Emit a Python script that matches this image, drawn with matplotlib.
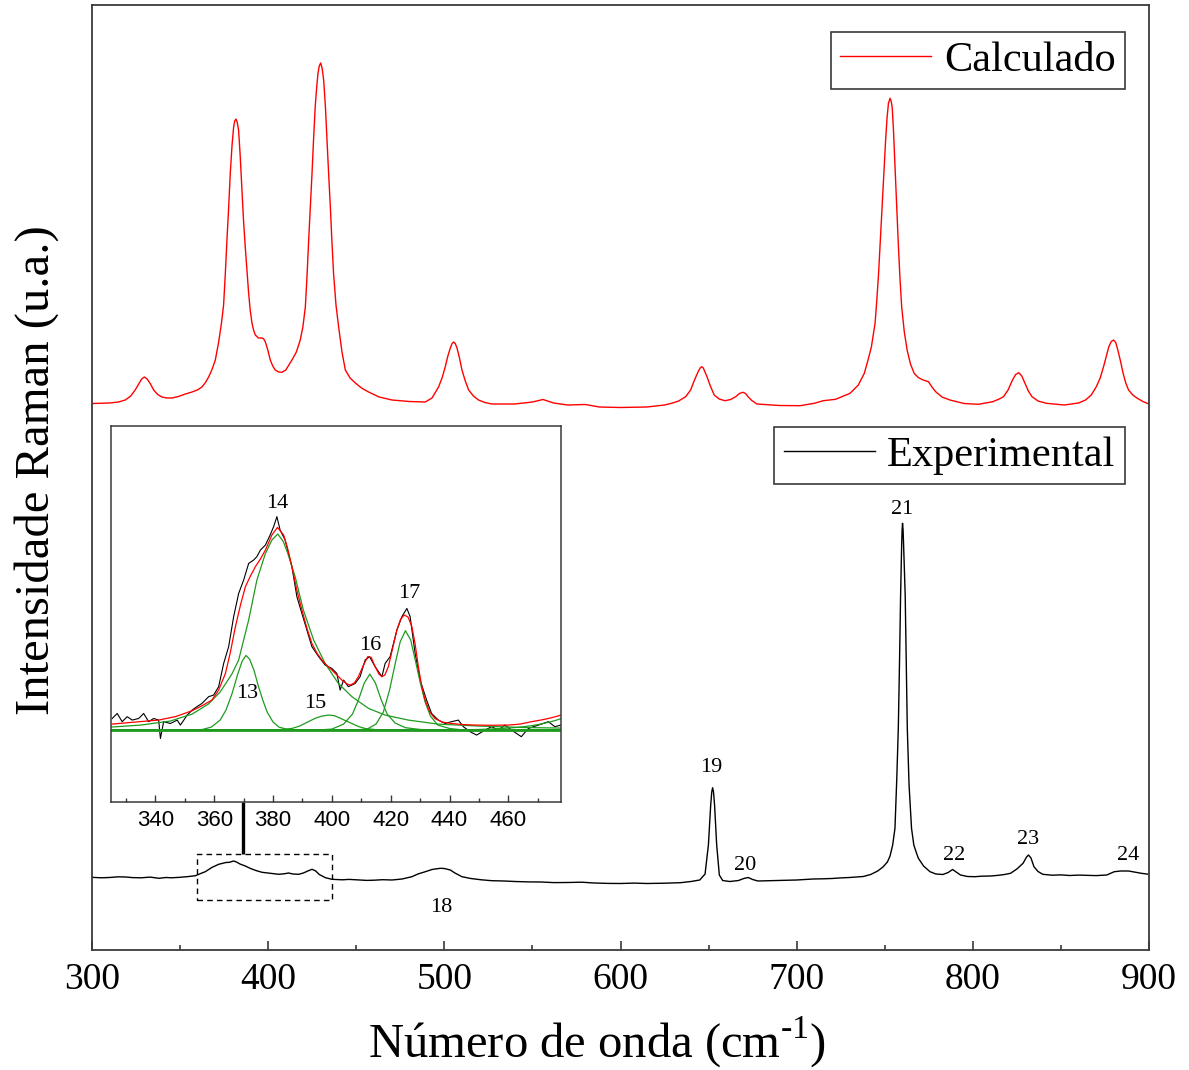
#!/usr/bin/env python3
# Raman spectrum: calculated vs experimental, with inset of the 360-440 region fit

import matplotlib
matplotlib.use("Agg")
import matplotlib.pyplot as plt
from matplotlib.lines import Line2D
from matplotlib.ticker import MultipleLocator

plt.rcParams["font.family"] = ["Liberation Serif", "DejaVu Serif"]
plt.rcParams["mathtext.fontset"] = "custom"
plt.rcParams["mathtext.rm"] = "Liberation Serif"

#%% data (arbitrary units)
calc_x = [300, 310, 315, 318.9, 322, 324.5, 326.5, 328.2, 329.7, 331.3, 333.2, 335, 337.3, 339.7,
          342.5, 345.4, 349, 353, 356.8, 359.8, 362.4, 364.4, 366.2, 368, 370, 371.9, 373.5,
          374.7, 375.7, 376.6, 377.5, 378.5, 379.5, 380.4, 381, 381.7, 382.4, 383.2, 384.1,
          385.1, 386, 387, 388, 388.9, 389.8, 390.8, 391.7, 392.7, 394.5, 396.5, 397.5, 398.4,
          399.8, 401.2, 402.6, 404, 406, 407.8, 410, 413.5, 416, 418.2, 419.7, 421.1, 422, 423,
          424, 424.9, 425.8, 426.7, 427.5, 428.3, 429, 429.8, 430.6, 431.5, 432.5, 433.4, 434.3,
          435.3, 436.2, 437.1, 438.5, 440, 441.9, 443.8, 446.5, 449.5, 453, 457, 463, 470.3, 480,
          489.2, 493, 496.7, 498.7, 500.5, 502, 503.4, 504.4, 505.3, 506.2, 507.2, 508.6, 510,
          511.9, 513.8, 516.5, 519.4, 523, 527, 540, 550, 556, 562, 570, 580, 588, 600, 615, 625,
          629, 633, 637, 639.8, 642, 644, 645.2, 646.1, 647, 649.1, 651, 653.2, 656, 659.3,
          662.5, 665.4, 667.5, 669.5, 671, 672.4, 674.5, 677.5, 690, 701.9, 710, 715.1, 722.1,
          730.3, 735, 738.4, 740.5, 742.4, 744.5, 745.5, 746.5, 747.5, 748.5, 749.5, 750.5, 751.3,
          752.1, 753, 753.6, 754.2, 754.9, 755.6, 756.6, 757.6, 758.6, 759.6, 761.1, 762.7,
          764.6, 766.7, 769, 771.8, 774.8, 776.8, 778.9, 782.5, 787, 795, 803.2, 811.3, 815,
          817.4, 820, 822.5, 824.3, 826.1, 827.8, 829.6, 831.5, 833.6, 837, 841.7, 851.9, 860,
          864, 867.2, 870.1, 872.3, 874.2, 875.8, 877.2, 878.6, 879.9, 881.1, 882.3, 883.8,
          885.3, 886.8, 888.4, 890.8, 893.4, 896.5, 900]
calc_y = [546.5, 547, 548, 550, 554, 560, 566, 571, 573, 571, 566, 560, 555.5, 553,
          552, 552, 553.5, 556, 558, 560, 563, 567.5, 573, 580, 590, 608, 627,
          645, 677, 710, 740, 777, 805, 823, 829, 831, 828, 820, 795,
          760, 730, 703, 678, 657, 640, 627, 620, 615, 612, 612, 611, 608,
          600, 590, 584, 580, 578, 577.7, 580, 590, 598, 610, 623, 643, 672, 710,
          745, 777, 812, 843, 862, 877, 884, 887, 882, 870, 843, 810, 777,
          743, 708, 677, 645, 623, 598, 580, 572, 567, 562, 558, 553, 550, 548.5,
          548, 552, 563, 572, 583, 594, 602, 606.5, 608, 606.5, 602, 592, 580,
          569, 560, 554, 550, 547.5, 546, 546, 548, 550.5, 547, 545, 545.5, 543, 542.5, 543, 545,
          546.7, 549, 553.3, 560, 570, 578, 582, 583.3, 582, 573.3, 564, 555, 551, 549.3,
          550.5, 553.3, 556.5, 557.7, 556.5, 553.3, 549.5, 546, 544.5, 544.3, 546.7, 549.3, 550.7,
          556.7, 565, 576.7, 590, 603, 626.7, 650, 676.7, 710, 743.3, 778, 810, 832,
          846.7, 851.7, 849, 843.3, 822, 793.3, 750, 710, 673, 643.3, 618, 600,
          586, 576.7, 572.5, 570, 568.3, 563, 558.3, 553, 550, 546.5, 545.7, 548.3, 551,
          553.3, 560, 570, 575.5, 577.3, 574, 566.7, 559, 553.3, 549, 546.7, 545, 547,
          550, 555, 563.3, 572, 583.3, 594, 603.3, 608.5, 610, 607.5, 600, 589,
          576.7, 567, 560, 555, 551.7, 548.5, 546]

exp_x = [300, 305, 310, 315, 319, 323, 328, 333, 338, 342, 345, 350, 355, 358.7, 361, 364.3, 368,
         371.9, 376, 378, 380.4, 382, 384, 387, 390, 393, 396.5, 400, 403, 406, 409, 411.6, 414,
         417.3, 420, 422.5, 424.9, 427, 429, 432.5, 436.2, 442, 446, 451.4, 456, 460, 465, 470.3,
         476, 481.6, 485, 489.2, 493, 497.7, 500, 503.4, 506, 510, 515, 521, 527, 534, 540, 548,
         555, 562, 570, 578, 585, 593, 600, 608, 615, 625, 634, 640, 645, 648, 649.9, 651.2,
         651.8, 652.3, 652.8, 653.4, 654.6, 656.1, 658, 662, 667, 670, 672.5, 675, 678, 684, 690,
         695, 700, 709.3, 715, 720, 725, 730, 737.8, 742, 746, 749, 751.5, 753, 754.5, 755.8,
         756.8, 757.7, 758.4, 759, 759.6, 759.85, 760.1, 760.4, 760.7, 761.6, 762.2, 762.8,
         763.8, 765.2, 766.5, 768, 769.1, 772, 775.7, 779, 783, 786, 788.5, 790.5, 793, 797,
         801.2, 805, 810, 814, 818, 821.4, 825, 828.5, 830.5, 831.6, 833, 834.7, 837, 839.7,
         845, 850, 855, 860, 865, 870, 876, 880.3, 884, 888.4, 893, 896, 900]
exp_y = [72.7, 72.2, 72.5, 73.2, 73, 72.4, 72.2, 72.9, 71.7, 72.5, 72.2, 72.7, 73.5, 74.3, 76,
         78.3, 82.5, 85.7, 87.5, 87.7, 89, 88, 86, 84, 81.5, 79.5, 77.7, 77, 76.5, 75.7, 76.2,
         77, 76, 75.7, 77, 79, 80.7, 79, 75.5, 72.3, 70.7, 70.2, 70.6, 70, 69.6, 69.8, 70.3, 70,
         71, 73.3, 76, 78.3, 80.5, 81.7, 81.5, 80, 77, 73.3, 71.5, 70.2, 69.3, 69, 68.5, 68.1,
         68, 67.4, 67.5, 67.8, 67, 66.6, 66.5, 66.9, 66.5, 66.8, 67.3, 68.5, 70, 76, 105, 145,
         158, 162.3, 158, 145, 105, 75, 69.5, 68.5, 69.5, 71.5, 72.5, 70.5, 69, 69.3, 69.5,
         69.9, 70, 71, 71.2, 71.5, 72.1, 72.5, 73.5, 75.5, 79, 83, 88, 94, 105, 121.7,
         170, 221.7, 290, 355, 405, 420, 426.7, 420, 405, 355, 290, 221.7,
         165, 121.7, 105, 97, 91.7, 84, 78.3, 76, 75.5, 77.5, 80.5, 78, 75, 73.5,
         73.3, 73.8, 74, 74.6, 75.5, 76.7, 81, 86.7, 93, 95, 92, 83.3, 78.5, 75.7,
         74.8, 75.1, 74.5, 74.9, 74.7, 74.4, 75, 78.3, 79, 79, 77.5, 76.6, 75.7]

# inset: experimental points (noisy), fit sum and fitted components
ins_exp_x = [325.3, 327, 328.7, 330.4, 332.1, 334.3, 336, 337.7, 339.4, 341.1, 341.7, 342.8,
             345.1, 347.4, 348.5, 350.8, 352.5, 354.1, 355.8, 358.1, 359.8, 361.5, 363.2, 364.9,
             366.6, 368.3, 370, 371.7, 373.4, 374.5, 375.7, 377.4, 379, 380.2, 381.3, 382.4,
             384.1, 386.4, 388.1, 389.8, 391.5, 393.2, 395.5, 397.7, 400, 401.7, 402.8, 404,
             405.6, 407.9, 409.6, 411.3, 412.8, 414.7, 417, 418.1, 419.8, 422.1, 423.8, 425.5,
             426.6, 428.3, 430, 432.2, 433.9, 436.2, 438.5, 440.7, 443, 444.7, 447, 449.2,
             452.1, 454.3, 456.6, 458.8, 461.1, 464.4, 466.8, 470.2, 473.6, 475.8, 477.9]
ins_exp_y = [0.058, 0.083, 0.042, 0.067, 0.05, 0.058, 0.083, 0.042, 0.058, 0.05, -0.042, 0.042,
             0.033, 0.05, 0.025, 0.075, 0.1, 0.117, 0.133, 0.167, 0.175, 0.217, 0.333, 0.417,
             0.567, 0.683, 0.75, 0.833, 0.85, 0.867, 0.9, 0.925, 0.975, 1.017, 1.067, 1.0,
             0.95, 0.817, 0.667, 0.583, 0.5, 0.417, 0.367, 0.325, 0.308, 0.283, 0.2, 0.25,
             0.217, 0.233, 0.267, 0.35, 0.367, 0.317, 0.267, 0.333, 0.367, 0.5, 0.567, 0.608,
             0.567, 0.383, 0.25, 0.15, 0.083, 0.05, 0.033, 0.042, 0.05, 0.017, -0.008, -0.025,
             0.0, 0.017, 0.0, 0.025, 0.0, -0.033, 0.008, 0.025, 0.042, 0.017, 0.025]

fit_x = [325.3, 333, 341.1, 347, 352.5, 356, 359.2, 361.5, 363.8, 365.5, 367.2, 369, 370.6, 372.3,
         374, 375.7, 377.4, 379.6, 381.5, 383.6, 385, 386.4, 388, 389.8, 391.5, 393.2, 394.9,
         396.6, 398.3, 400, 401.7, 403.4, 405, 406.2, 407.6, 409, 410.6, 412.2, 413.4, 414.7,
         416, 417, 418, 419.2, 420.6, 422.1, 423.4, 424.6, 425.9, 427.2, 428.3, 429.4, 430.6,
         431.7, 433.3, 435, 437.5, 440.7, 444, 448.7, 454, 460, 464, 467.9, 471, 473.6, 475.8,
         477.9]
fit_y = [0.03, 0.04, 0.05, 0.068, 0.097, 0.123, 0.15, 0.2, 0.283, 0.39, 0.517, 0.63, 0.717, 0.77,
         0.817, 0.855, 0.9, 0.975, 1.013, 0.975, 0.905, 0.817, 0.705, 0.6, 0.51, 0.433, 0.385,
         0.35, 0.323, 0.3, 0.275, 0.25, 0.232, 0.225, 0.235, 0.267, 0.32, 0.367, 0.363, 0.317,
         0.28, 0.267, 0.275, 0.317, 0.405, 0.5, 0.555, 0.575, 0.565, 0.517, 0.43, 0.317, 0.215,
         0.15, 0.09, 0.058, 0.04, 0.033, 0.028, 0.025, 0.024, 0.025, 0.03, 0.042, 0.05, 0.058,
         0.066, 0.075]

c13_x = [325, 352, 356, 359, 362, 364, 366, 368, 369.5, 370.8, 372, 373.5, 375, 376.5, 378, 380,
         382, 385, 390, 478]
c13_y = [0, 0, 0.003, 0.015, 0.05, 0.1, 0.18, 0.28, 0.345, 0.373, 0.355, 0.3, 0.22, 0.15, 0.09,
         0.04, 0.015, 0.003, 0, 0]
c14_x = [325, 335, 345, 352.5, 358, 362, 366, 368.3, 371.7, 374.5, 377.4, 379.6, 381.6, 383.5,
         385, 387.5, 390.3, 393.8, 397.7, 402.2, 406.8, 412.5, 418.1, 426, 436, 450, 465, 478]
c14_y = [0.015, 0.025, 0.045, 0.08, 0.13, 0.19, 0.28, 0.35, 0.55, 0.75, 0.883, 0.95, 0.98, 0.942,
         0.883, 0.767, 0.6, 0.45, 0.333, 0.233, 0.167, 0.108, 0.075, 0.05, 0.03, 0.02, 0.013, 0.01]
c15_x = [325, 378, 383, 386.4, 389, 392, 394.5, 396.6, 398.9, 400.8, 402.3, 404.5, 406.8, 409,
         411.3, 415, 420, 478]
c15_y = [0, 0, 0.003, 0.008, 0.02, 0.042, 0.06, 0.07, 0.075, 0.072, 0.063, 0.048, 0.033, 0.018,
         0.008, 0.002, 0, 0]
c16_x = [325, 395, 400, 404, 407, 409, 411, 412.9, 414.8, 416.8, 418.8, 421.5, 425, 430, 436, 478]
c16_y = [0, 0, 0.005, 0.03, 0.08, 0.15, 0.235, 0.28, 0.235, 0.15, 0.08, 0.035, 0.012, 0.003, 0, 0]
c17_x = [325, 407, 412, 415, 417.5, 419.6, 421.5, 423.2, 425, 426.8, 428.5, 430, 431.7, 433.5,
         436, 440, 445, 478]
c17_y = [0, 0, 0.005, 0.03, 0.09, 0.2, 0.33, 0.44, 0.497, 0.45, 0.34, 0.24, 0.14, 0.07, 0.025,
         0.008, 0, 0]
c18_x = [325, 440, 450, 455, 460, 464, 468, 471, 474, 476, 478]
c18_y = [0, 0, 0.003, 0.006, 0.01, 0.015, 0.022, 0.03, 0.04, 0.048, 0.058]

# peak labels: main panel and inset
main_labels = ["18", "19", "20", "21", "22", "23", "24"]
main_label_x = [498.1, 651.6, 671.0, 759.8, 789.3, 831.6, 888.2]
main_label_y = [43, 182, 84, 440, 95, 110, 94]
ins_labels = ["13", "14", "15", "16", "17"]
ins_label_x = [371.1, 381.3, 394.3, 413.0, 426.2]
ins_label_y = [0.183, 1.133, 0.133, 0.425, 0.683]

# zoomed region marked in the main panel
box_x = (359.4, 436.0)
box_y = (49.7, 95.7)
link_x = 385.9
link_y = (95.7, 148.0)

green = "#1e9b1e"
spine_col = "#3a3a3a"

#%% figure
fig = plt.figure(figsize=(11.89, 10.70), dpi=100)
ax = fig.add_axes([92 / 1189, 1 - 950 / 1070, 1057 / 1189, 945 / 1070])

ax.plot(calc_x, calc_y, color="red", lw=1.0)
ax.plot(exp_x, exp_y, color="black", lw=1.0)

ax.plot([box_x[0], box_x[1], box_x[1], box_x[0], box_x[0]],
        [box_y[0], box_y[0], box_y[1], box_y[1], box_y[0]],
        color="black", lw=1.0, ls=(0, (4, 3)))
ax.plot([link_x, link_x], link_y, color="black", lw=2.4, solid_capstyle="butt")

for lab, lx, ly in zip(main_labels, main_label_x, main_label_y):
    ax.text(lx, ly, lab, ha="center", va="center", fontsize=16)

ax.set_xlim(300, 900)
ax.set_ylim(0, 945)
ax.set_yticks([])
ax.xaxis.set_major_locator(MultipleLocator(100))
ax.xaxis.set_minor_locator(MultipleLocator(50))
ax.tick_params(axis="x", which="both", direction="in", labelsize=27, pad=9,
               color=spine_col, width=1.2)
ax.tick_params(axis="x", which="major", length=6.5)
ax.tick_params(axis="x", which="minor", length=3.5)
for sp in ax.spines.values():
    sp.set_color(spine_col)
    sp.set_linewidth(1.3)

ax.set_xlabel("Número de onda (cm$^{\\mathregular{\\text{-}1}}$)", fontsize=35)
ax.xaxis.set_label_coords(0.478, -0.069)
ax.set_ylabel("Intensidade Raman (u.a.)", fontsize=35)
ax.yaxis.set_label_coords(-0.031, 0.508)

# legends
leg_kw = dict(fontsize=30.5, frameon=True, fancybox=False, framealpha=1, edgecolor=spine_col,
              handlelength=2.15, handletextpad=0.3, borderpad=0.22, borderaxespad=0,
              loc="upper right", bbox_transform=fig.transFigure)
leg1 = ax.legend(handles=[Line2D([], [], color="red", lw=1.0)], labels=["Calculado"],
                 bbox_to_anchor=(1125 / 1189, 1 - 32 / 1070), **leg_kw)
leg1.get_frame().set_linewidth(1.2)
ax.add_artist(leg1)
leg2 = ax.legend(handles=[Line2D([], [], color="black", lw=1.0)], labels=["Experimental"],
                 bbox_to_anchor=(1125 / 1189, 1 - 427 / 1070), **leg_kw)
leg2.get_frame().set_linewidth(1.2)

#%% inset
axin = fig.add_axes([111.3 / 1189, 1 - 801.7 / 1070, 450 / 1189, 375.7 / 1070])
axin.plot(ins_exp_x, ins_exp_y, color="black", lw=0.8)
for cx, cy in [(c13_x, c13_y), (c14_x, c14_y), (c15_x, c15_y), (c16_x, c16_y),
               (c17_x, c17_y), (c18_x, c18_y)]:
    axin.plot(cx, cy, color=green, lw=0.9)
axin.axhline(0, color=green, lw=2.0)
axin.plot(fit_x, fit_y, color="red", lw=0.9)

for lab, lx, ly in zip(ins_labels, ins_label_x, ins_label_y):
    axin.text(lx, ly, lab, ha="center", va="center", fontsize=16)

axin.set_xlim(325, 478)
axin.set_ylim(-0.358, 1.52)
axin.set_yticks([])
axin.xaxis.set_major_locator(MultipleLocator(20))
axin.xaxis.set_minor_locator(MultipleLocator(10))
axin.tick_params(axis="x", which="both", direction="in", labelsize=16, pad=6,
                 color=spine_col, width=1.0)
axin.tick_params(axis="x", which="major", length=5)
axin.tick_params(axis="x", which="minor", length=3)
for t in axin.get_xticklabels():
    t.set_family(["Liberation Sans", "DejaVu Sans"])
for sp in axin.spines.values():
    sp.set_color(spine_col)
    sp.set_linewidth(1.1)

fig.savefig("out.png", dpi=100)
